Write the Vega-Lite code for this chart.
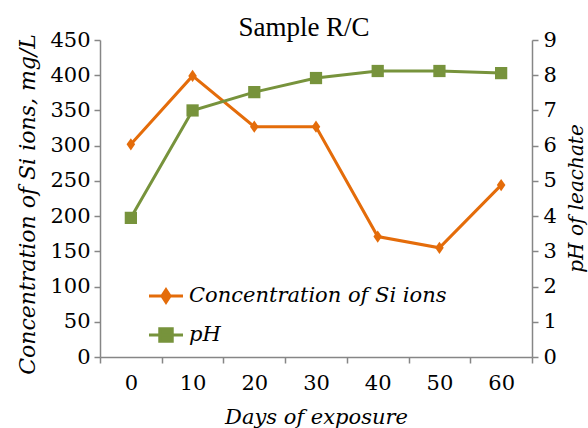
{
  "$schema": "https://vega.github.io/schema/vega-lite/v6.json",
  "width": 432,
  "height": 317,
  "autosize": {"type": "none"},
  "padding": {"left": 100, "top": 40, "right": 56, "bottom": 71},
  "background": "white",
  "title": {
    "text": "Sample R/C",
    "font": "Liberation Serif",
    "fontSize": 27,
    "fontWeight": "normal",
    "color": "black",
    "anchor": "middle",
    "dx": -12,
    "dy": 21,
    "offset": 8
  },
  "config": {
    "view": {"stroke": null},
    "axis": {
      "domainColor": "#868686",
      "tickColor": "#868686",
      "domainWidth": 1.5,
      "tickWidth": 1.5,
      "grid": false
    }
  },
  "data": {
    "values": [
      {"day": "0", "series": "Concentration of  Si ions", "value": 302},
      {"day": "10", "series": "Concentration of  Si ions", "value": 399},
      {"day": "20", "series": "Concentration of  Si ions", "value": 327},
      {"day": "30", "series": "Concentration of  Si ions", "value": 327},
      {"day": "40", "series": "Concentration of  Si ions", "value": 171},
      {"day": "50", "series": "Concentration of  Si ions", "value": 155},
      {"day": "60", "series": "Concentration of  Si ions", "value": 244},
      {"day": "0", "series": "pH", "value": 3.95},
      {"day": "10", "series": "pH", "value": 7.0},
      {"day": "20", "series": "pH", "value": 7.52},
      {"day": "30", "series": "pH", "value": 7.92},
      {"day": "40", "series": "pH", "value": 8.12},
      {"day": "50", "series": "pH", "value": 8.12},
      {"day": "60", "series": "pH", "value": 8.06}
    ]
  },
  "encoding": {
    "x": {
      "field": "day",
      "type": "ordinal",
      "sort": ["0", "10", "20", "30", "40", "50", "60"],
      "bandPosition": 0.5,
      "scale": {"type": "band", "paddingInner": 0, "paddingOuter": 0},
      "axis": {
        "title": "Days of exposure",
        "labelFont": "DejaVu Serif",
        "labelFontSize": 21,
        "labelColor": "black",
        "titleFont": "DejaVu Serif",
        "titleFontWeight": "normal",
        "titleFontStyle": "italic",
        "titleFontSize": 21,
        "titleColor": "black",
        "labelAngle": 0,
        "tickBand": "extent",
        "tickSize": 6,
        "labelPadding": 9,
        "titlePadding": 13
      }
    },
    "color": {
      "field": "series",
      "type": "nominal",
      "scale": {"domain": ["Concentration of  Si ions", "pH"], "range": ["#E46C0A", "#77933C"]},
      "legend": {
        "title": null,
        "orient": "none",
        "legendX": 53,
        "legendY": 243,
        "padding": 0,
        "labelFont": "DejaVu Serif",
        "labelFontStyle": "italic",
        "labelFontSize": 21,
        "labelColor": "black",
        "labelLimit": 400,
        "labelOffset": 10,
        "rowPadding": 13,
        "symbolSize": 514,
        "symbolStrokeWidth": 3,
        "symbolOpacity": 1,
        "encode": {
          "symbols": {
            "update": {
              "shape": {"signal": "datum.value === 'pH' ? 'M-1.5,0H1.5M-0.55,-0.55H0.55V0.55H-0.55Z' : 'M-1.5,0H1.5M0,-0.55L0.36,0L0,0.55L-0.36,0Z'"},
              "fill": {"signal": "scale('color', datum.value)"},
              "stroke": {"signal": "scale('color', datum.value)"},
              "strokeWidth": {"value": 3},
              "opacity": {"value": 1}
            }
          }
        }
      }
    }
  },
  "layer": [
    {
      "transform": [{"filter": "datum.series !== 'pH'"}],
      "mark": {
        "type": "line",
        "strokeWidth": 3,
        "point": {"filled": true, "shape": "M0,-1L0.7,0L0,1L-0.7,0Z", "size": 150, "opacity": 1}
      },
      "encoding": {
        "y": {
          "field": "value",
          "type": "quantitative",
          "scale": {"domain": [0, 450], "nice": false},
          "axis": {
            "title": "Concentration of Si ions, mg/L",
            "labelFont": "DejaVu Serif",
            "labelFontSize": 21,
            "labelColor": "black",
            "titleFont": "DejaVu Serif",
            "titleFontWeight": "normal",
            "titleFontStyle": "italic",
            "titleFontSize": 22,
            "titleColor": "black",
            "values": [0, 50, 100, 150, 200, 250, 300, 350, 400, 450],
            "tickSize": 6,
            "labelPadding": 4,
            "titleX": -73,
            "titleY": 164,
            "titleAngle": 270,
            "titleBaseline": "middle"
          }
        }
      }
    },
    {
      "transform": [{"filter": "datum.series === 'pH'"}],
      "mark": {
        "type": "line",
        "strokeWidth": 3,
        "point": {"filled": true, "shape": "square", "size": 150, "opacity": 1}
      },
      "encoding": {
        "y": {
          "field": "value",
          "type": "quantitative",
          "scale": {"domain": [0, 9], "nice": false},
          "axis": {
            "orient": "right",
            "title": "pH of leachate",
            "labelFont": "DejaVu Serif",
            "labelFontSize": 21,
            "labelColor": "black",
            "titleFont": "DejaVu Serif",
            "titleFontWeight": "normal",
            "titleFontStyle": "italic",
            "titleFontSize": 20,
            "titleColor": "black",
            "values": [0, 1, 2, 3, 4, 5, 6, 7, 8, 9],
            "tickSize": 6,
            "labelPadding": 5,
            "titleX": 44,
            "titleY": 158,
            "titleAngle": 270,
            "titleBaseline": "middle"
          }
        }
      }
    }
  ],
  "resolve": {"scale": {"y": "independent"}}
}
